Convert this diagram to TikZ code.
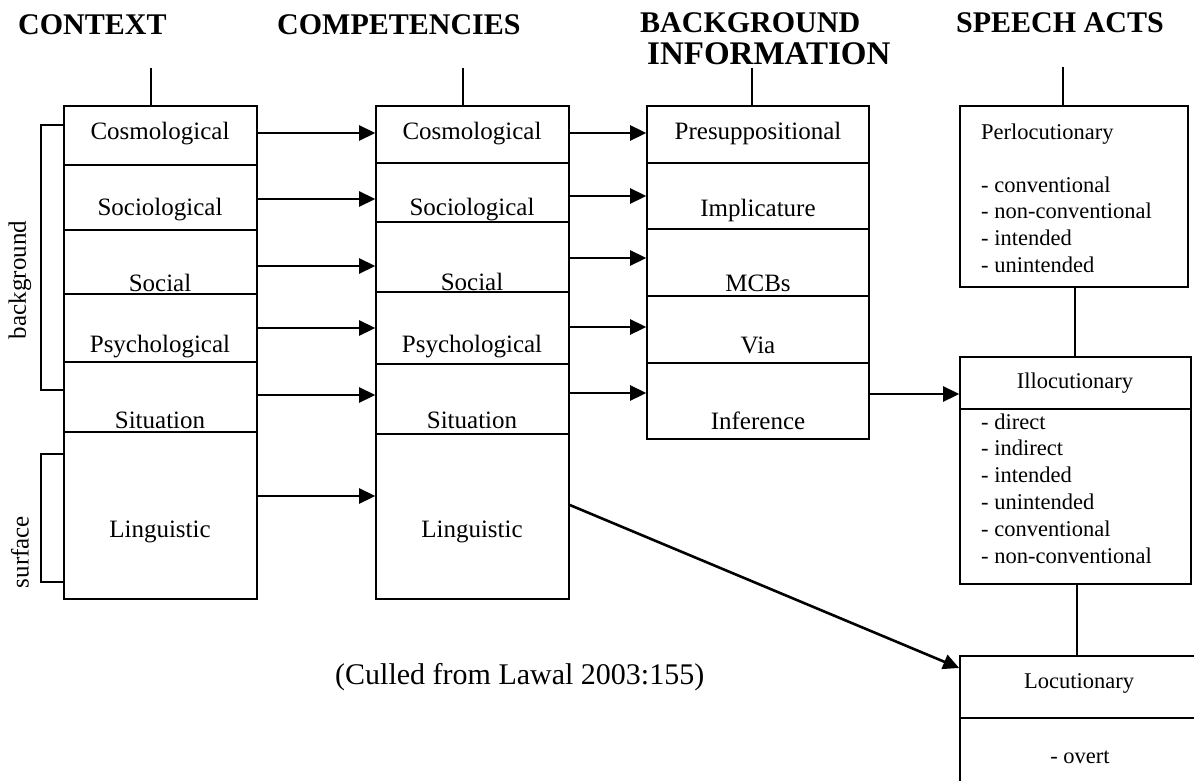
\documentclass[tikz,border=0pt]{standalone}
\usepackage{fontspec}
\setmainfont{Liberation Serif}
\usetikzlibrary{arrows.meta}
\begin{document}
\begin{tikzpicture}[x=1pt,y=-1pt,
  cellbox/.style={draw, line width=1.6pt, inner sep=0pt, minimum width=#1},
  lbl/.style={inner sep=0pt, anchor=base, font=\fontsize{25}{28}\selectfont},
  lst/.style={inner sep=0pt, anchor=base west, font=\fontsize{22.5}{26}\selectfont},
  hdr/.style={inner sep=0pt, anchor=base west, font=\fontsize{30}{34}\selectfont\bfseries},
  arr/.style={line width=2.6pt, -{Triangle[length=16pt,width=15pt]}},
  conn/.style={line width=1.6pt}
]
\useasboundingbox (0,0) rectangle (1194,781);

% headers
\node[hdr] (hctx) at (18,35) {CONTEXT};
\node[hdr] (hcomp) at (277,35) {COMPETENCIES};
\node[hdr] (hbg) at (640,33) {BACKGROUND};
\node[hdr, font=\fontsize{33}{36}\selectfont\bfseries] (hinf) at (647,65) {INFORMATION};
\node[hdr] (hsp) at (956,33) {SPEECH ACTS};

% column 1: context
\node[cellbox=193, minimum height=59] (c1a) at (160.5,135.5) {};
\node[cellbox=193, minimum height=65] (c1b) at (160.5,197.5) {};
\node[cellbox=193, minimum height=64] (c1c) at (160.5,262) {};
\node[cellbox=193, minimum height=68] (c1d) at (160.5,328) {};
\node[cellbox=193, minimum height=70] (c1e) at (160.5,397) {};
\node[cellbox=193, minimum height=167] (c1f) at (160.5,515.5) {};
\node[lbl] (l1a) at (160,140) {Cosmological};
\node[lbl] (l1b) at (160,215) {Sociological};
\node[lbl] (l1c) at (160,291) {Social};
\node[lbl] (l1d) at (160,352) {Psychological};
\node[lbl] (l1e) at (160,428) {Situation};
\node[lbl] (l1f) at (160,537) {Linguistic};

% column 2: competencies
\node[cellbox=193, minimum height=57] (c2a) at (472.5,134.5) {};
\node[cellbox=193, minimum height=59] (c2b) at (472.5,192.5) {};
\node[cellbox=193, minimum height=70] (c2c) at (472.5,257) {};
\node[cellbox=193, minimum height=72] (c2d) at (472.5,328) {};
\node[cellbox=193, minimum height=70] (c2e) at (472.5,399) {};
\node[cellbox=193, minimum height=165] (c2f) at (472.5,516.5) {};
\node[lbl] (l2a) at (472,140) {Cosmological};
\node[lbl] (l2b) at (472,215) {Sociological};
\node[lbl] (l2c) at (472,290) {Social};
\node[lbl] (l2d) at (472,352) {Psychological};
\node[lbl] (l2e) at (472,428) {Situation};
\node[lbl] (l2f) at (472,537) {Linguistic};

% column 3: background information
\node[cellbox=222, minimum height=57] (c3a) at (758,134.5) {};
\node[cellbox=222, minimum height=66] (c3b) at (758,196) {};
\node[cellbox=222, minimum height=67] (c3c) at (758,262.5) {};
\node[cellbox=222, minimum height=67] (c3d) at (758,329.5) {};
\node[cellbox=222, minimum height=76] (c3e) at (758,401) {};
\node[lbl] (l3a) at (758,140) {Presuppositional};
\node[lbl] (l3b) at (758,216) {Implicature};
\node[lbl] (l3c) at (758,291) {MCBs};
\node[lbl] (l3d) at (758,353) {Via};
\node[lbl] (l3e) at (758,429) {Inference};

% column 4: speech acts
\node[cellbox=228, minimum height=181] (perl) at (1074,196.5) {};
\node[lst] (lperl) at (981,140) {Perlocutionary};
\foreach \t [count=\i] in {- conventional, - non-conventional, - intended, - unintended}
  \node[lst] (pl\i) at (981,{192+26.7*(\i-1)}) {\t};

\node[cellbox=231, minimum height=52] (illoh) at (1075.5,383) {};
\node[cellbox=231, minimum height=175] (illob) at (1075.5,496.5) {};
\node[lst, anchor=base] (lillo) at (1075,388) {Illocutionary};
\foreach \t [count=\i] in {- direct, - indirect, - intended, - unintended, - conventional, - non-conventional}
  \node[lst] (il\i) at (981,{429+26.8*(\i-1)}) {\t};

\node[cellbox=250, minimum height=62] (loch) at (1085,687) {};
\node[cellbox=250, minimum height=82] (locb) at (1085,759) {};
\node[lst, anchor=base] (lloc) at (1079,688) {Locutionary};
\node[lst, anchor=base] (lovert) at (1080,763) {- overt};

% top connectors
\coordinate (t1) at (151,68);
\coordinate (t2) at (463,68);
\coordinate (t3) at (752,68);
\coordinate (t4) at (1063,67);
\draw[conn] (t1) -- (t1 |- c1a.north);
\draw[conn] (t2) -- (t2 |- c2a.north);
\draw[conn] (t3) -- (t3 |- c3a.north);
\draw[conn] (t4) -- (t4 |- perl.north);

% speech act links
\draw[conn] (perl.south -| 1075,0) -- (illoh.north -| 1075,0);
\draw[conn] (illob.south -| 1077,0) -- (loch.north -| 1077,0);

% brackets
\draw[conn] (c1a.west |- 0,125) -- (41,125) -- (41,390) -- (c1e.west |- 0,390);
\draw[conn] (c1f.west |- 0,454) -- (41,454) -- (41,582) -- (c1f.west |- 0,582);
\node[inner sep=0pt, rotate=90, font=\fontsize{25}{28}\selectfont] (bglbl) at (20,280) {background};
\node[inner sep=0pt, rotate=90, font=\fontsize{25}{28}\selectfont] (sflbl) at (20,552) {surface};

% arrows column 1 -> column 2
\draw[arr] (c1a.east |- 0,133) -- (c2a.west |- 0,133);
\draw[arr] (c1b.east |- 0,199) -- (c2b.west |- 0,199);
\draw[arr] (c1c.east |- 0,266) -- (c2c.west |- 0,266);
\draw[arr] (c1d.east |- 0,328) -- (c2d.west |- 0,328);
\draw[arr] (c1e.east |- 0,395) -- (c2e.west |- 0,395);
\draw[arr] (c1f.east |- 0,496) -- (c2f.west |- 0,496);

% arrows column 2 -> column 3
\draw[arr] (c2a.east |- 0,133) -- (c3a.west |- 0,133);
\draw[arr] (c2b.east |- 0,196) -- (c3b.west |- 0,196);
\draw[arr] (c2c.east |- 0,258) -- (c3c.west |- 0,258);
\draw[arr] (c2d.east |- 0,327) -- (c3d.west |- 0,327);
\draw[arr] (c2e.east |- 0,393) -- (c3e.west |- 0,393);

% to speech acts
\draw[arr] (c3e.east |- 0,394) -- (illoh.west |- 0,394);
\draw[arr] (c2f.east |- 0,505) -- (loch.west |- 0,668);

% caption
\node[inner sep=0pt, anchor=base west, font=\fontsize{30}{34}\selectfont] (cap) at (335,684) {(Culled from Lawal 2003:155)};
\end{tikzpicture}
\end{document}
